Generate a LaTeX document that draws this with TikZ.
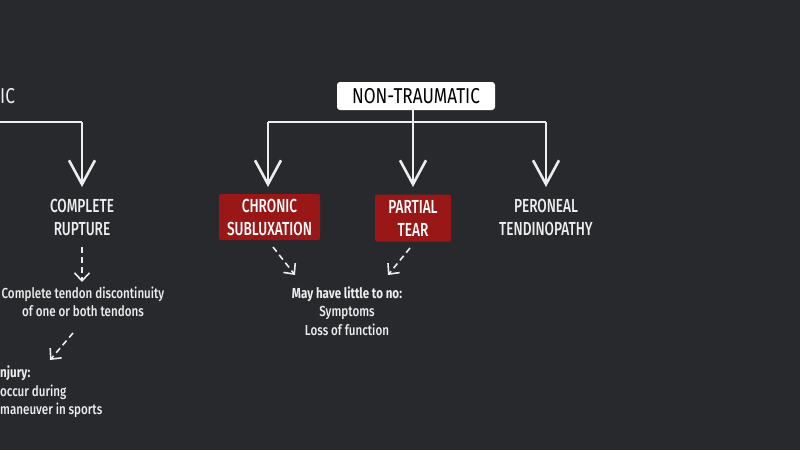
\documentclass[tikz,border=0pt]{standalone}
\usepackage{fontspec}
\setmainfont{Fira Sans}[FakeStretch=0.72, UprightFont=* Medium, BoldFont=* Bold]
\newfontfamily\smallfont{Fira Sans}[FakeStretch=0.8, UprightFont=* Medium, BoldFont=* Bold]
\newfontfamily\tagfont{Fira Sans}[FakeStretch=0.8]
\usetikzlibrary{arrows.meta}
\definecolor{bg}{HTML}{28292D}
\definecolor{chalk}{HTML}{EDEDED}
\definecolor{redbox}{HTML}{9A1717}
\tikzset{
  main/.style={draw=chalk, line width=2.6pt, -{Straight Barb[length=24pt,width=26pt,line width=2.6pt]}},
  plain/.style={draw=chalk, line width=2.6pt},
  dash arrow/.style={draw=chalk, line width=1.6pt, dash pattern=on 6pt off 4pt, -{Straight Barb[length=8pt,width=15pt,line width=1.6pt]}},
  caps/.style={text=chalk, font=\fontsize{18.9}{23}\selectfont, align=center},
  small/.style={text=chalk, font=\smallfont\fontsize{14.5}{18.5}\selectfont, align=center},
  redlabel/.style={fill=redbox, text=white, font=\fontsize{18.9}{23}\selectfont, align=center, rounded corners=2pt, inner sep=0pt},
  tag/.style={fill=white, text=black, font=\tagfont\fontsize{21.5}{24}\selectfont, rounded corners=3pt, inner sep=0pt, minimum width=158pt, minimum height=28pt}
}
\begin{document}
\begin{tikzpicture}[x=1pt,y=-1pt]
\fill[bg] (0,0) rectangle (800,450);
\useasboundingbox (0,0) rectangle (800,450);

% left (cut-off) part
\node[text=chalk, anchor=west, font=\tagfont\fontsize{21.5}{24}\selectfont, inner sep=0pt] (trau) at (0,96) {IC};
\coordinate (lstart) at (0,122);
\coordinate (lcorner) at (82,122);
\node[caps] (complete) at (82,217) {COMPLETE\\RUPTURE};
\draw[plain] (lstart) -- (lcorner);
\draw[main] (lcorner) -- (82,187);
\node[small] (disc) at (83,302) {Complete tendon discontinuity\\of one or both tendons};
\draw[dash arrow] (82,247) -- (82,282);
\draw[dash arrow] (73,333) -- (50,360);
\node[small, anchor=north west, align=left, inner sep=0pt] (injury) at (0,366) {\textbf{njury:}\\occur during\\ maneuver in sports};

% non-traumatic
\node[tag] (nt) at (416,96) {NON-TRAUMATIC};
\coordinate (mid) at (413,122);
\coordinate (left) at (268,122);
\coordinate (right) at (546,122);
\draw[plain] (nt.south -| mid) -- (mid);
\draw[plain] (left) -- (right);
\draw[main] (left) -- (268,187);
\draw[main] (mid) -- (413,187);
\draw[main] (right) -- (546,187);

\node[redlabel, minimum width=101pt, minimum height=46pt] (chronic) at (269.5,217) {CHRONIC\\SUBLUXATION};
\node[redlabel, minimum width=76pt, minimum height=47pt] (partial) at (413,218) {PARTIAL\\TEAR};
\node[caps] (peroneal) at (546,217) {PERONEAL\\TENDINOPATHY};

\node[small] (may) at (347,311) {\textbf{May have little to no:}\\Symptoms\\Loss of function};
\draw[dash arrow] (273,247) -- (295,275);
\draw[dash arrow] (410,248) -- (388,275);
\end{tikzpicture}
\end{document}
